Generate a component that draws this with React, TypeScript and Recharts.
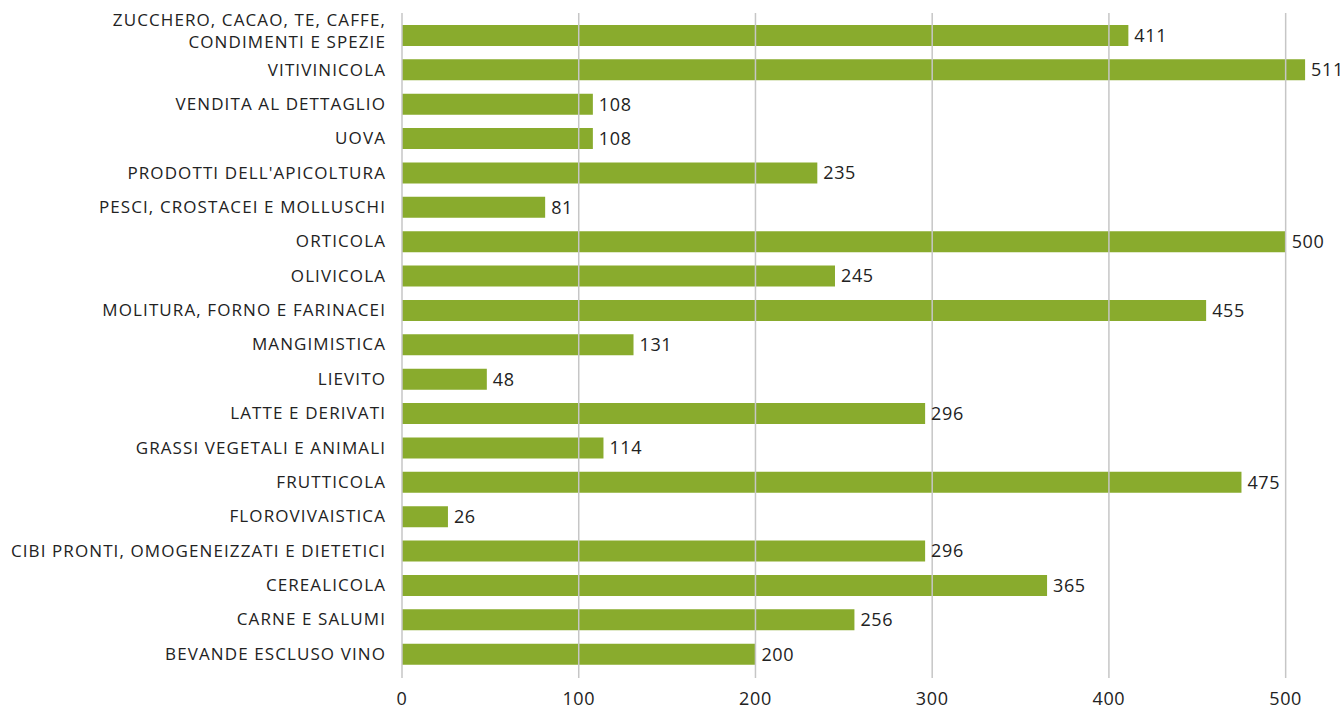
import React from "react";
import { BarChart, Bar, XAxis, YAxis, ReferenceLine, LabelList } from "recharts";

const categories = [
  "ZUCCHERO, CACAO, TE, CAFFE,\nCONDIMENTI E SPEZIE",
  "VITIVINICOLA",
  "VENDITA AL DETTAGLIO",
  "UOVA",
  "PRODOTTI DELL'APICOLTURA",
  "PESCI, CROSTACEI E MOLLUSCHI",
  "ORTICOLA",
  "OLIVICOLA",
  "MOLITURA, FORNO E FARINACEI",
  "MANGIMISTICA",
  "LIEVITO",
  "LATTE E DERIVATI",
  "GRASSI VEGETALI E ANIMALI",
  "FRUTTICOLA",
  "FLOROVIVAISTICA",
  "CIBI PRONTI, OMOGENEIZZATI E DIETETICI",
  "CEREALICOLA",
  "CARNE E SALUMI",
  "BEVANDE ESCLUSO VINO",
];

const values = [411, 511, 108, 108, 235, 81, 500, 245, 455, 131, 48, 296, 114, 475, 26, 296, 365, 256, 200];

const xTicks = [0, 100, 200, 300, 400, 500];

const data = categories.map((name, i) => ({ name, value: values[i] }));

const FONT = "'Open Sans', Lato, sans-serif";
const FS = 17;

// category label, split on newline for the long first entry
const CategoryTick = (props: any) => {
  const { x, y, payload } = props;
  const lines: string[] = String(payload.value).split("\n");
  const gap = 22;
  const start = -((lines.length - 1) * gap) / 2 - (lines.length > 1 ? 4 : 0);
  return (
    <g>
      {lines.map((l, i) => (
        <text
          key={i}
          x={x}
          y={y + start + i * gap}
          dy="0.35em"
          textAnchor="end"
          fill="#222"
          fontSize={FS}
          fontFamily={FONT}
          letterSpacing={1.1}
        >
          {l}
        </text>
      ))}
    </g>
  );
};

export default function App() {
  return (
    <div style={{ position: "absolute", left: 0, top: 0 }}>
      <BarChart
        width={1344}
        height={709}
        data={data}
        layout="vertical"
        margin={{ top: 13, right: 23, bottom: 0, left: 0 }}
      >
        <XAxis
          type="number"
          domain={[0, 520]}
          ticks={xTicks}
          axisLine={false}
          tickLine={false}
          tickMargin={8}
          height={31}
          interval={0}
          tick={{ fill: "#222", fontSize: 18, fontFamily: FONT, letterSpacing: 0.6 }}
        />
        <YAxis
          type="category"
          dataKey="name"
          width={402}
          axisLine={false}
          tickLine={false}
          tickMargin={10}
          interval={0}
          padding={{ top: 5, bottom: 7 }}
          tick={<CategoryTick />}
        />
        <Bar dataKey="value" fill="#89ab2d" barSize={21} isAnimationActive={false}>
          <LabelList
            dataKey="value"
            position="right"
            offset={6}
            fill="#222"
            fontSize={18}
            fontFamily={FONT}
            letterSpacing={0.6}
          />
        </Bar>
        {/* gridlines sit on top of the bars in the original */}
        {xTicks.map((t) => (
          <ReferenceLine key={t} x={t} stroke="#c6c6c6" strokeWidth={1.5} />
        ))}
      </BarChart>
    </div>
  );
}
